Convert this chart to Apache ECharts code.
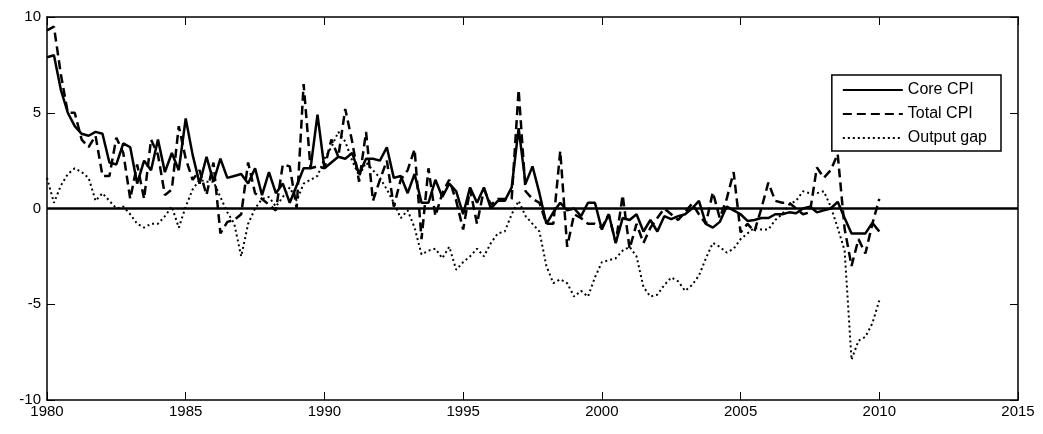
<!DOCTYPE html>
<html><head><meta charset="utf-8">
<script src="https://cdn.jsdelivr.net/npm/echarts@6/dist/echarts.min.js"></script>
<style>html,body{margin:0;padding:0;background:#fff}#c{width:1043px;height:434px}</style>
</head><body><div id="c"></div>
<script>
var startYear = 1980; // quarterly from 1980Q1 to 2010Q1
var coreCPI = [7.9,8.0,6.2,5.0,4.3,3.9,3.8,4.0,3.9,2.4,
2.3,3.4,3.2,1.3,2.5,2.0,3.6,1.9,2.9,2.0,
4.7,2.8,1.3,2.7,1.4,2.6,1.6,1.7,1.8,1.3,
2.1,0.7,1.9,0.8,1.3,0.3,1.2,2.1,2.1,4.9,
2.1,2.4,2.7,2.6,2.9,1.8,2.6,2.6,2.5,3.2,
1.6,1.7,0.8,1.8,0.3,0.3,1.5,0.6,1.3,0.9,
-0.3,1.1,0.3,1.1,0.0,0.4,0.4,1.1,4.2,1.3,
2.2,0.8,-0.8,-0.2,0.3,-0.1,0.0,-0.4,0.3,0.3,
-1.1,-0.3,-1.8,-0.5,-0.6,-0.3,-1.2,-0.6,-1.2,-0.4,
-0.55,-0.4,-0.3,0.0,0.4,-0.8,-1.0,-0.7,0.1,-0.1,
-0.3,-0.65,-0.6,-0.5,-0.5,-0.3,-0.3,-0.2,-0.25,0.0,
0.1,-0.2,-0.1,0.0,0.35,-0.5,-1.3,-1.3,-1.3,-0.75,-1.2];
var totalCPI = [9.3,9.5,7.0,5.0,5.0,3.6,3.2,3.8,1.7,1.7,
3.7,2.9,0.5,2.3,0.5,3.6,2.8,0.7,1.0,4.3,
2.6,1.5,2.0,0.7,2.4,-1.3,-0.7,-0.6,-0.3,2.4,
0.8,0.5,0.2,-0.1,2.3,2.2,0.0,6.5,2.1,2.2,
2.1,3.6,2.7,5.2,3.5,1.4,4.0,0.4,1.5,2.5,
0.1,1.5,2.0,3.1,-1.6,2.1,-0.4,0.8,1.5,0.4,
-1.1,1.0,-0.8,1.0,0.2,0.5,0.5,0.5,6.2,0.9,
0.5,0.3,-0.8,-0.8,3.0,-2.0,-0.3,-0.5,-0.8,-0.8,
-1.0,-0.3,-1.8,0.7,-2.1,-0.8,-1.8,-1.0,-0.5,0.0,
-0.3,-0.6,-0.2,0.25,-0.3,-0.8,0.85,-0.5,0.5,1.9,
-1.25,-0.8,-1.2,0.0,1.35,0.4,0.3,0.3,0.0,-0.3,
-0.2,2.15,1.6,2.0,2.85,-1.05,-3.0,-1.6,-2.35,-0.8,0.5];
var outputGap = [1.6,0.3,1.2,1.8,2.1,1.9,1.6,0.4,0.8,0.4,
0.0,0.1,-0.3,-0.8,-1.0,-0.8,-0.8,-0.4,0.1,-1.0,
0.1,1.0,1.5,1.4,1.4,0.6,-0.2,-0.8,-2.5,-0.8,
0.0,0.5,0.6,0.1,0.6,1.1,0.4,1.3,1.5,1.7,
2.6,3.2,4.0,3.5,2.5,1.7,2.4,2.0,1.6,1.0,
0.3,-0.5,-0.1,-1.0,-2.4,-2.2,-2.1,-2.6,-2.0,-3.2,
-2.8,-2.5,-2.1,-2.5,-1.8,-1.3,-1.2,-0.3,0.4,-0.4,
-0.8,-1.2,-3.0,-3.9,-3.7,-3.9,-4.6,-4.3,-4.6,-3.6,
-2.8,-2.7,-2.6,-2.2,-2.0,-2.5,-4.1,-4.6,-4.5,-4.0,
-3.6,-3.8,-4.3,-4.0,-3.5,-2.6,-1.8,-2.0,-2.3,-2.1,
-1.6,-1.3,-1.0,-1.1,-1.1,-0.6,-0.3,0.2,0.4,0.9,
0.8,0.8,0.9,0.1,-1.0,-2.2,-7.9,-6.9,-6.7,-6.0,-4.8];
var xTicks = [1980,1985,1990,1995,2000,2005,2010,2015];
var yTicks = [-10,-5,0,5,10];

function pairs(arr){ return arr.map(function(v,i){ return [startYear + i*0.25, v]; }); }
var font = 'Liberation Sans, Arial, sans-serif';
var chart = echarts.init(document.getElementById('c'));
function ax(extra){
  return Object.assign({axisLine:{show:true,onZero:false,lineStyle:{color:'#000',width:1.5}},splitLine:{show:false},
    axisTick:{show:true,inside:true,length:8,lineStyle:{color:'#000'}}},extra);
}
chart.setOption({
  animation:false,
  grid:{left:47,right:25,top:17,bottom:34},
  legend:{show:true,right:42,top:75,orient:'vertical',itemWidth:60,itemHeight:14,itemGap:8,
    borderColor:'#000',borderWidth:1.5,borderRadius:0,padding:[7,14,5,10],backgroundColor:'#fff',
    itemStyle:{opacity:0},
    textStyle:{fontFamily:font,fontSize:16,color:'#000'},
    data:['Core CPI','Total CPI','Output gap']},
  xAxis:[ax({type:'value',min:1980,max:2015,interval:5,
      axisLabel:{fontFamily:font,fontSize:15,color:'#000',margin:4,formatter:function(v){return String(v);}}}),
    ax({type:'value',position:'top',min:1980,max:2015,interval:5,axisLabel:{show:false}})],
  yAxis:[ax({type:'value',min:-10,max:10,interval:5,
      axisLabel:{fontFamily:font,fontSize:15,color:'#000',margin:6}}),
    ax({type:'value',position:'right',min:-10,max:10,interval:5,axisLabel:{show:false}})],
  series:[
    {name:'Core CPI',type:'line',data:pairs(coreCPI),showSymbol:false,symbol:'none',lineStyle:{color:'#000',width:2.5},itemStyle:{color:'#000'},
     markLine:{silent:true,symbol:'none',label:{show:false},lineStyle:{color:'#000',width:2.5,type:'solid'},data:[{yAxis:0}]},z:5},
    {name:'Total CPI',type:'line',data:pairs(totalCPI),showSymbol:false,symbol:'none',lineStyle:{color:'#000',width:2.5,type:[9,5]},itemStyle:{color:'#000'}},
    {name:'Output gap',type:'line',data:pairs(outputGap),showSymbol:false,symbol:'none',lineStyle:{color:'#000',width:2,type:[2,3]},itemStyle:{color:'#000'}}
  ]
});
</script></body></html>
